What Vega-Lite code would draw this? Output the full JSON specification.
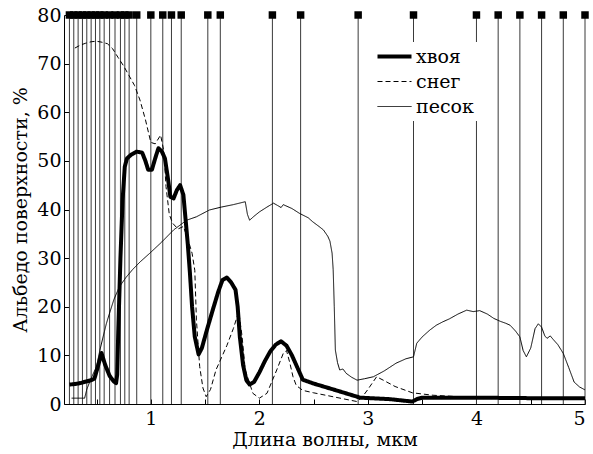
{
  "$schema": "https://vega.github.io/schema/vega-lite/v6.json",
  "width": 521,
  "height": 389,
  "autosize": {"type": "none"},
  "padding": {"left": 64, "top": 15, "right": 8, "bottom": 50},
  "background": "white",
  "config": {
    "view": {"stroke": null},
    "font": "DejaVu Serif",
    "axis": {
      "labelFont": "DejaVu Serif",
      "titleFont": "DejaVu Serif",
      "labelFontSize": 19,
      "titleFontSize": 19,
      "titleFontWeight": "normal",
      "labelColor": "black",
      "titleColor": "black",
      "domainColor": "black",
      "tickColor": "black",
      "grid": false
    },
    "legend": {
      "labelFont": "DejaVu Serif",
      "labelFontSize": 19,
      "labelColor": "black",
      "fillColor": "white",
      "padding": 4,
      "rowPadding": 5,
      "symbolType": "M-2,0H2",
      "symbolSize": 289,
      "symbolOffset": 17,
      "labelOffset": 11,
      "symbolStrokeColor": "black"
    }
  },
  "datasets": {
    "bands": [
      {"x": 0.25}, {"x": 0.29}, {"x": 0.33}, {"x": 0.37}, {"x": 0.41}, {"x": 0.45},
      {"x": 0.49}, {"x": 0.53}, {"x": 0.57}, {"x": 0.62}, {"x": 0.67}, {"x": 0.72},
      {"x": 0.76}, {"x": 0.80}, {"x": 0.87}, {"x": 1.0}, {"x": 1.11}, {"x": 1.19},
      {"x": 1.28}, {"x": 1.525}, {"x": 1.64}, {"x": 2.12}, {"x": 2.38}, {"x": 2.91},
      {"x": 3.42}, {"x": 4.0}, {"x": 4.2}, {"x": 4.4}, {"x": 4.6}, {"x": 4.8}, {"x": 5.0}
    ],
    "curves": [
      {"s": "хвоя", "x": 0.25, "y": 4.0}, {"s": "хвоя", "x": 0.30, "y": 4.1}, {"s": "хвоя", "x": 0.35, "y": 4.3},
      {"s": "хвоя", "x": 0.40, "y": 4.6}, {"s": "хвоя", "x": 0.45, "y": 4.9}, {"s": "хвоя", "x": 0.48, "y": 5.2},
      {"s": "хвоя", "x": 0.51, "y": 7.5}, {"s": "хвоя", "x": 0.545, "y": 10.5}, {"s": "хвоя", "x": 0.58, "y": 8.0},
      {"s": "хвоя", "x": 0.62, "y": 5.8}, {"s": "хвоя", "x": 0.66, "y": 4.6}, {"s": "хвоя", "x": 0.68, "y": 4.3},
      {"s": "хвоя", "x": 0.69, "y": 6.0}, {"s": "хвоя", "x": 0.70, "y": 15.0}, {"s": "хвоя", "x": 0.72, "y": 30.0},
      {"s": "хвоя", "x": 0.74, "y": 42.0}, {"s": "хвоя", "x": 0.76, "y": 48.8}, {"s": "хвоя", "x": 0.78, "y": 50.5},
      {"s": "хвоя", "x": 0.82, "y": 51.3}, {"s": "хвоя", "x": 0.87, "y": 51.9}, {"s": "хвоя", "x": 0.92, "y": 51.7},
      {"s": "хвоя", "x": 0.95, "y": 50.0}, {"s": "хвоя", "x": 0.975, "y": 48.2}, {"s": "хвоя", "x": 1.01, "y": 48.2},
      {"s": "хвоя", "x": 1.04, "y": 50.5}, {"s": "хвоя", "x": 1.07, "y": 52.6}, {"s": "хвоя", "x": 1.10, "y": 52.0},
      {"s": "хвоя", "x": 1.13, "y": 50.5}, {"s": "хвоя", "x": 1.16, "y": 46.0}, {"s": "хвоя", "x": 1.18, "y": 42.6},
      {"s": "хвоя", "x": 1.21, "y": 42.3}, {"s": "хвоя", "x": 1.24, "y": 44.0}, {"s": "хвоя", "x": 1.27, "y": 45.0},
      {"s": "хвоя", "x": 1.30, "y": 43.0}, {"s": "хвоя", "x": 1.32, "y": 38.0}, {"s": "хвоя", "x": 1.34, "y": 33.0},
      {"s": "хвоя", "x": 1.36, "y": 27.0}, {"s": "хвоя", "x": 1.38, "y": 20.0}, {"s": "хвоя", "x": 1.405, "y": 13.8},
      {"s": "хвоя", "x": 1.44, "y": 10.2}, {"s": "хвоя", "x": 1.47, "y": 11.5}, {"s": "хвоя", "x": 1.52, "y": 15.5},
      {"s": "хвоя", "x": 1.57, "y": 19.3}, {"s": "хвоя", "x": 1.62, "y": 23.0}, {"s": "хвоя", "x": 1.66, "y": 25.5},
      {"s": "хвоя", "x": 1.70, "y": 26.0}, {"s": "хвоя", "x": 1.74, "y": 25.0}, {"s": "хвоя", "x": 1.78, "y": 23.5},
      {"s": "хвоя", "x": 1.80, "y": 20.0}, {"s": "хвоя", "x": 1.82, "y": 13.8}, {"s": "хвоя", "x": 1.85, "y": 8.0},
      {"s": "хвоя", "x": 1.88, "y": 4.9}, {"s": "хвоя", "x": 1.91, "y": 4.0}, {"s": "хвоя", "x": 1.95, "y": 4.5},
      {"s": "хвоя", "x": 2.00, "y": 6.5}, {"s": "хвоя", "x": 2.05, "y": 8.8}, {"s": "хвоя", "x": 2.10, "y": 10.8},
      {"s": "хвоя", "x": 2.15, "y": 12.2}, {"s": "хвоя", "x": 2.20, "y": 12.9}, {"s": "хвоя", "x": 2.25, "y": 12.0},
      {"s": "хвоя", "x": 2.30, "y": 10.0}, {"s": "хвоя", "x": 2.35, "y": 7.5}, {"s": "хвоя", "x": 2.40, "y": 5.0},
      {"s": "хвоя", "x": 2.50, "y": 4.2}, {"s": "хвоя", "x": 2.65, "y": 3.2}, {"s": "хвоя", "x": 2.93, "y": 1.3},
      {"s": "хвоя", "x": 3.20, "y": 1.0}, {"s": "хвоя", "x": 3.41, "y": 0.5}, {"s": "хвоя", "x": 3.45, "y": 1.0},
      {"s": "хвоя", "x": 3.50, "y": 1.3}, {"s": "хвоя", "x": 4.00, "y": 1.3}, {"s": "хвоя", "x": 4.50, "y": 1.2},
      {"s": "хвоя", "x": 5.00, "y": 1.2},

      {"s": "снег", "x": 0.30, "y": 73.2}, {"s": "снег", "x": 0.35, "y": 73.8}, {"s": "снег", "x": 0.40, "y": 74.2},
      {"s": "снег", "x": 0.45, "y": 74.5}, {"s": "снег", "x": 0.50, "y": 74.6}, {"s": "снег", "x": 0.55, "y": 74.4},
      {"s": "снег", "x": 0.60, "y": 74.1}, {"s": "снег", "x": 0.65, "y": 73.0}, {"s": "снег", "x": 0.70, "y": 71.2},
      {"s": "снег", "x": 0.75, "y": 69.5}, {"s": "снег", "x": 0.80, "y": 67.5}, {"s": "снег", "x": 0.85, "y": 65.5},
      {"s": "снег", "x": 0.90, "y": 62.5}, {"s": "снег", "x": 0.95, "y": 58.5}, {"s": "снег", "x": 1.00, "y": 53.8},
      {"s": "снег", "x": 1.04, "y": 53.5}, {"s": "снег", "x": 1.09, "y": 55.3}, {"s": "снег", "x": 1.12, "y": 52.0},
      {"s": "снег", "x": 1.14, "y": 44.7}, {"s": "снег", "x": 1.17, "y": 39.0}, {"s": "снег", "x": 1.20, "y": 37.2},
      {"s": "снег", "x": 1.25, "y": 36.0}, {"s": "снег", "x": 1.30, "y": 36.5}, {"s": "снег", "x": 1.34, "y": 34.0},
      {"s": "снег", "x": 1.38, "y": 31.0}, {"s": "снег", "x": 1.405, "y": 27.5}, {"s": "снег", "x": 1.42, "y": 17.3},
      {"s": "снег", "x": 1.45, "y": 7.7}, {"s": "снег", "x": 1.48, "y": 3.3}, {"s": "снег", "x": 1.51, "y": 1.5},
      {"s": "снег", "x": 1.55, "y": 3.0}, {"s": "снег", "x": 1.60, "y": 7.0}, {"s": "снег", "x": 1.65, "y": 9.5},
      {"s": "снег", "x": 1.70, "y": 12.0}, {"s": "снег", "x": 1.76, "y": 15.5}, {"s": "снег", "x": 1.81, "y": 19.0},
      {"s": "снег", "x": 1.84, "y": 14.0}, {"s": "снег", "x": 1.87, "y": 7.0}, {"s": "снег", "x": 1.94, "y": 2.2},
      {"s": "снег", "x": 2.00, "y": 1.2}, {"s": "снег", "x": 2.07, "y": 2.2}, {"s": "снег", "x": 2.16, "y": 7.0},
      {"s": "снег", "x": 2.22, "y": 10.4}, {"s": "снег", "x": 2.25, "y": 11.0}, {"s": "снег", "x": 2.28, "y": 8.5},
      {"s": "снег", "x": 2.31, "y": 5.6}, {"s": "снег", "x": 2.34, "y": 3.8}, {"s": "снег", "x": 2.40, "y": 2.8},
      {"s": "снег", "x": 2.50, "y": 2.3}, {"s": "снег", "x": 2.70, "y": 1.4}, {"s": "снег", "x": 2.90, "y": 0.5},
      {"s": "снег", "x": 2.95, "y": 1.5}, {"s": "снег", "x": 3.00, "y": 3.0}, {"s": "снег", "x": 3.08, "y": 5.6},
      {"s": "снег", "x": 3.15, "y": 4.8}, {"s": "снег", "x": 3.25, "y": 3.6}, {"s": "снег", "x": 3.41, "y": 2.3},
      {"s": "снег", "x": 3.60, "y": 1.8}, {"s": "снег", "x": 4.00, "y": 1.3}, {"s": "снег", "x": 4.50, "y": 1.2},
      {"s": "снег", "x": 5.00, "y": 1.1},

      {"s": "песок", "x": 0.27, "y": 1.2}, {"s": "песок", "x": 0.39, "y": 1.2}, {"s": "песок", "x": 0.41, "y": 3.0},
      {"s": "песок", "x": 0.45, "y": 5.3}, {"s": "песок", "x": 0.50, "y": 7.7}, {"s": "песок", "x": 0.53, "y": 11.0},
      {"s": "песок", "x": 0.56, "y": 13.8}, {"s": "песок", "x": 0.59, "y": 16.5}, {"s": "песок", "x": 0.62, "y": 18.7},
      {"s": "песок", "x": 0.66, "y": 21.5}, {"s": "песок", "x": 0.71, "y": 24.1}, {"s": "песок", "x": 0.77, "y": 26.0},
      {"s": "песок", "x": 0.83, "y": 27.6}, {"s": "песок", "x": 0.90, "y": 29.2}, {"s": "песок", "x": 0.99, "y": 31.0},
      {"s": "песок", "x": 1.10, "y": 33.3}, {"s": "песок", "x": 1.21, "y": 35.8}, {"s": "песок", "x": 1.33, "y": 37.8},
      {"s": "песок", "x": 1.42, "y": 38.5}, {"s": "песок", "x": 1.54, "y": 39.9}, {"s": "песок", "x": 1.65, "y": 40.5},
      {"s": "песок", "x": 1.76, "y": 41.0}, {"s": "песок", "x": 1.87, "y": 41.6}, {"s": "песок", "x": 1.89, "y": 39.0},
      {"s": "песок", "x": 1.91, "y": 37.8}, {"s": "песок", "x": 1.95, "y": 38.6}, {"s": "песок", "x": 2.00, "y": 39.5},
      {"s": "песок", "x": 2.07, "y": 40.5}, {"s": "песок", "x": 2.13, "y": 41.3}, {"s": "песок", "x": 2.17, "y": 40.8},
      {"s": "песок", "x": 2.20, "y": 40.4}, {"s": "песок", "x": 2.22, "y": 41.0}, {"s": "песок", "x": 2.30, "y": 40.2},
      {"s": "песок", "x": 2.37, "y": 39.2}, {"s": "песок", "x": 2.45, "y": 38.3}, {"s": "песок", "x": 2.49, "y": 37.5},
      {"s": "песок", "x": 2.55, "y": 36.5}, {"s": "песок", "x": 2.59, "y": 35.8}, {"s": "песок", "x": 2.63, "y": 34.5},
      {"s": "песок", "x": 2.65, "y": 33.5}, {"s": "песок", "x": 2.67, "y": 31.0}, {"s": "песок", "x": 2.68, "y": 27.6},
      {"s": "песок", "x": 2.69, "y": 20.0}, {"s": "песок", "x": 2.70, "y": 11.1}, {"s": "песок", "x": 2.72, "y": 8.5},
      {"s": "песок", "x": 2.74, "y": 7.0}, {"s": "песок", "x": 2.77, "y": 7.2}, {"s": "песок", "x": 2.80, "y": 6.3},
      {"s": "песок", "x": 2.85, "y": 5.5}, {"s": "песок", "x": 2.90, "y": 4.9}, {"s": "песок", "x": 2.97, "y": 5.2},
      {"s": "песок", "x": 3.05, "y": 5.6}, {"s": "песок", "x": 3.15, "y": 6.8}, {"s": "песок", "x": 3.26, "y": 8.4},
      {"s": "песок", "x": 3.35, "y": 9.3}, {"s": "песок", "x": 3.42, "y": 9.7}, {"s": "песок", "x": 3.45, "y": 12.5},
      {"s": "песок", "x": 3.50, "y": 13.8}, {"s": "песок", "x": 3.57, "y": 15.2}, {"s": "песок", "x": 3.63, "y": 16.2},
      {"s": "песок", "x": 3.69, "y": 16.9}, {"s": "песок", "x": 3.75, "y": 17.5}, {"s": "песок", "x": 3.83, "y": 18.5},
      {"s": "песок", "x": 3.91, "y": 19.3}, {"s": "песок", "x": 3.97, "y": 19.0}, {"s": "песок", "x": 4.03, "y": 19.2},
      {"s": "песок", "x": 4.10, "y": 18.5}, {"s": "песок", "x": 4.16, "y": 17.6}, {"s": "песок", "x": 4.22, "y": 17.0},
      {"s": "песок", "x": 4.27, "y": 16.6}, {"s": "песок", "x": 4.31, "y": 16.2}, {"s": "песок", "x": 4.36, "y": 15.0},
      {"s": "песок", "x": 4.40, "y": 13.8}, {"s": "песок", "x": 4.43, "y": 11.0}, {"s": "песок", "x": 4.46, "y": 9.7},
      {"s": "песок", "x": 4.50, "y": 11.5}, {"s": "песок", "x": 4.54, "y": 15.5}, {"s": "песок", "x": 4.57, "y": 16.5},
      {"s": "песок", "x": 4.60, "y": 15.8}, {"s": "песок", "x": 4.63, "y": 14.0}, {"s": "песок", "x": 4.65, "y": 13.5},
      {"s": "песок", "x": 4.68, "y": 14.0}, {"s": "песок", "x": 4.71, "y": 13.2}, {"s": "песок", "x": 4.75, "y": 12.2},
      {"s": "песок", "x": 4.80, "y": 10.4}, {"s": "песок", "x": 4.85, "y": 7.5}, {"s": "песок", "x": 4.90, "y": 4.5},
      {"s": "песок", "x": 4.95, "y": 3.5}, {"s": "песок", "x": 5.00, "y": 2.9}
    ]
  },
  "layer": [
    {
      "data": {"name": "bands"},
      "mark": {"type": "rule", "color": "#3a3a3a", "strokeWidth": 1},
      "encoding": {
        "x": {
          "field": "x", "type": "quantitative",
          "scale": {"domain": [0.2, 5], "nice": false, "zero": false},
          "axis": {
            "title": "Длина волны, мкм",
            "values": [0.5, 1, 1.5, 2, 2.5, 3, 3.5, 4, 4.5, 5],
            "format": "~g",
            "labelExpr": "datum.value % 1 === 0 ? datum.label : ''",
            "tickSize": -5,
            "labelPadding": 10,
            "titlePadding": 2
          }
        }
      }
    },
    {
      "data": {"name": "curves"},
      "mark": {"type": "line", "color": "black", "strokeJoin": "round"},
      "encoding": {
        "x": {"field": "x", "type": "quantitative"},
        "y": {
          "field": "y", "type": "quantitative",
          "scale": {"domain": [0, 80], "nice": false},
          "axis": {
            "title": "Альбедо поверхности, %",
            "values": [0, 5, 10, 15, 20, 25, 30, 35, 40, 45, 50, 55, 60, 65, 70, 75, 80],
            "labelExpr": "datum.value % 10 === 0 ? datum.label : ''",
            "tickSize": -5,
            "labelPadding": 8,
            "titlePadding": 6
          }
        },
        "strokeDash": {
          "field": "s", "type": "nominal",
          "scale": {"domain": ["хвоя", "снег", "песок"], "range": [[1, 0], [5, 3], [1, 0]]},
          "legend": {"title": null, "orient": "none", "legendX": 299, "legendY": 27}
        },
        "strokeWidth": {
          "field": "s", "type": "nominal",
          "scale": {"type": "ordinal", "domain": ["хвоя", "снег", "песок"], "range": [4, 1, 1]},
          "legend": {"title": null, "orient": "none", "legendX": 299, "legendY": 27}
        },
        "detail": {"field": "s"}
      }
    },
    {
      "data": {"name": "bands"},
      "mark": {"type": "point", "shape": "square", "filled": true, "color": "black", "size": 56, "opacity": 1},
      "encoding": {
        "x": {"field": "x", "type": "quantitative"},
        "y": {"datum": 80}
      }
    }
  ]
}
